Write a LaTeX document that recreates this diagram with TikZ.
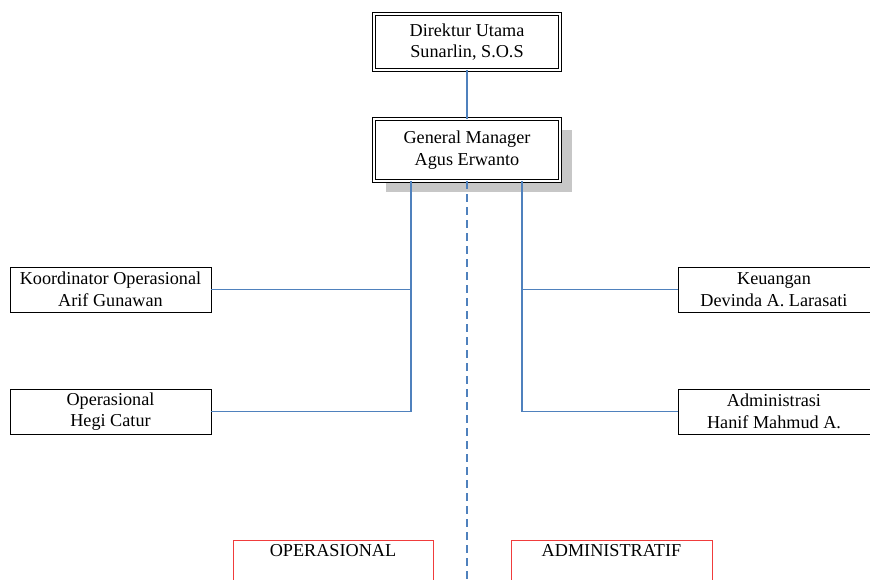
\documentclass[tikz,border=0pt]{standalone}
\usepackage{fontspec}
\setmainfont{Liberation Serif}
\usetikzlibrary{shadows}
\definecolor{lineblue}{RGB}{79,129,189}
\definecolor{boxred}{RGB}{240,60,60}
\tikzset{
  every node/.style={font=\fontsize{18.2}{21.5}\selectfont, inner sep=0pt, align=center},
  topbox/.style={draw=black, double, double distance=1.6pt, line width=0.8pt, minimum width=186pt, fill=white},
  staffbox/.style={draw=black, line width=0.9pt, minimum width=201pt, minimum height=45pt, fill=white},
  link/.style={draw=lineblue, line width=1.6pt},
  divider/.style={draw=lineblue, line width=2pt, dash pattern=on 8pt off 5pt},
  unitbox/.style={draw=boxred, line width=1pt}
}
\begin{document}
\begin{tikzpicture}[x=1pt,y=-1pt]
\useasboundingbox (0,0) rectangle (870,580);
% top boxes
\node[topbox, minimum height=56pt] (dir) at (467,42) {Direktur Utama\\Sunarlin, S.O.S};
\node[topbox, minimum height=62pt, drop shadow={shadow xshift=11.5pt, shadow yshift=-11.5pt, fill=black!22, opacity=1}] (gm) at (467,150) {General Manager\\Agus Erwanto};
% staff boxes
\node[staffbox] (koord) at (110.5,289.5) {Koordinator Operasional\\Arif Gunawan};
\node[staffbox] (oper) at (110.5,411.5) {Operasional\\Hegi Catur};
\node[staffbox, minimum width=192pt] (keu) at (774,289.5) {Keuangan\\Devinda A. Larasati};
\node[staffbox, minimum width=192pt] (adm) at (774,411.5) {Administrasi\\Hanif Mahmud A.};
% unit labels
\node (opunit) at (333,551) {OPERASIONAL};
\node (adunit) at (611.5,551) {ADMINISTRATIF};
\coordinate (opL) at (233,590);
\coordinate (opR) at (433,590);
\coordinate (adL) at (511,590);
\coordinate (adR) at (712,590);
\draw[unitbox] (opL) |- (opR |- 0,540) -- (opR);
\draw[unitbox] (adL) |- (adR |- 0,540) -- (adR);
% connectors
\draw[link] (dir.south) -- (gm.north);
\coordinate (gmL) at ([xshift=-56pt]gm.south);
\coordinate (gmR) at ([xshift=55pt]gm.south);
\draw[link] (koord.east) -| (gmL);
\draw[link] (oper.east) -| (gmL);
\draw[link] (keu.west) -| (gmR);
\draw[link] (adm.west) -| (gmR);
\coordinate (divEnd) at (467,585);
\draw[divider] (gm.south) -- (divEnd);
\end{tikzpicture}
\end{document}
